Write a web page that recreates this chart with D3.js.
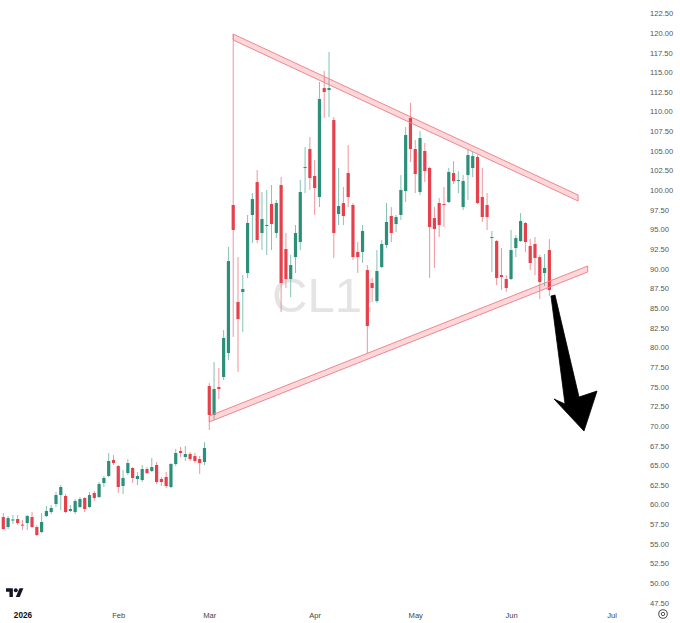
<!DOCTYPE html>
<html>
<head>
<meta charset="utf-8">
<script src="https://cdn.jsdelivr.net/npm/d3@7"></script>
<style>
body { margin: 0; background: #fff; }
svg { display: block; }
text { font-family: "Liberation Sans", Arial, sans-serif; }
</style>
</head>
<body>
<div id="chart-area"></div>
<script>
// CL1! daily candles, late Dec 2025 .. mid Jun 2026
var opens  = [58.41,57.14,58.00,58.16,57.45,57.65,58.41,57.14,56.50,58.54,59.05,60.07,61.21,61.09,59.18,59.05,59.69,60.83,59.69,61.47,
              60.96,62.74,63.63,65.67,64.90,62.36,64.01,64.65,63.25,63.12,64.52,64.27,65.03,63.25,63.50,62.23,65.16,66.81,66.05,66.43,
              66.17,65.79,65.41,75.08,71.39,74.95,76.23,79.28,98.11,85.77,87.04,89.46,96.84,101.03,94.55,95.44,98.24,94.55,100.65,92.51,
              88.69,91.49,93.40,102.82,105.23,101.80,99.13,112.99,112.74,108.92,96.96,98.36,102.18,98.11,92.13,92.13,89.84,88.18,85.89,90.22,
              93.02,96.71,95.69,96.84,99.89,109.18,105.23,99.76,104.98,102.82,96.45,98.36,98.24,98.49,102.18,101.16,97.85,101.92,102.82,104.22,
              99.13,98.11,93.91,93.53,89.20,88.69,88.69,92.64,93.53,95.82,92.89,93.15,91.49,89.46,92.38]
var highs  = [58.92,58.54,58.67,58.67,58.03,58.67,59.05,57.39,58.92,59.81,59.94,61.59,62.48,61.34,59.94,60.70,60.96,60.96,61.59,61.72,
              62.87,63.63,66.56,66.30,65.03,64.39,65.79,64.77,64.14,65.03,64.77,65.92,65.41,63.50,64.14,65.28,67.07,67.32,67.45,66.68,
              66.56,66.17,67.95,75.46,78.13,77.37,82.21,92.77,119.86,91.49,89.20,96.84,99.63,102.56,99.76,100.02,100.65,98.75,101.67,94.55,
              91.75,95.57,101.29,105.49,106.76,103.83,113.76,115.16,117.57,109.30,102.82,100.40,105.74,98.36,93.40,95.57,90.47,88.82,92.38,93.66,
              98.36,97.85,96.84,101.92,108.03,111.09,106.38,107.52,106.00,102.94,97.85,99.00,100.40,102.82,103.71,102.43,101.92,105.11,104.85,104.47,
              102.82,99.63,94.80,93.66,92.64,89.20,94.93,94.29,97.09,95.95,93.78,94.04,91.75,91.87,93.78]
var lows   = [56.76,56.89,57.52,57.39,56.76,56.76,57.01,55.99,56.37,58.41,58.79,59.69,59.30,58.92,59.05,58.79,59.56,59.05,59.56,60.45,
              60.83,62.23,63.50,65.03,61.47,61.34,63.76,62.74,62.48,62.87,63.88,64.14,62.61,62.36,62.10,62.10,64.90,66.05,65.54,65.54,
              65.28,63.88,65.03,69.48,70.75,73.43,75.84,78.39,81.32,76.86,81.95,88.82,93.27,93.27,92.38,91.75,92.38,93.91,84.50,87.55,
              86.40,89.46,92.38,99.63,100.02,96.84,97.85,109.18,109.30,91.37,95.57,95.57,97.85,91.11,89.46,90.73,79.28,85.77,85.64,90.09,
              92.64,93.40,94.67,96.20,98.49,103.58,99.63,99.38,101.03,88.82,90.09,94.04,95.31,98.36,100.78,99.63,97.47,98.75,101.67,98.24,
              95.95,94.93,89.58,87.93,87.29,87.04,88.57,91.49,93.40,92.13,89.84,89.20,86.15,87.80,86.53]
var closes = [56.89,58.28,58.10,57.65,57.35,58.54,57.14,56.12,57.78,59.18,59.56,61.21,62.23,59.05,59.43,60.45,60.70,59.43,61.21,60.83,
              62.61,63.38,65.54,65.28,62.23,63.38,65.28,63.38,63.63,64.52,64.01,64.77,62.87,62.87,62.36,65.16,66.56,66.56,66.43,65.79,
              65.54,65.28,67.19,71.39,74.70,74.70,81.19,90.98,94.93,83.60,87.42,95.82,98.87,93.66,96.33,95.57,95.69,98.36,88.18,88.69,
              90.47,94.55,99.76,102.94,101.54,100.27,111.59,112.49,112.99,94.55,97.98,96.71,99.13,91.49,91.49,94.80,82.71,87.55,89.71,93.15,
              95.95,94.55,96.58,100.02,107.01,105.23,102.05,106.63,102.43,95.31,95.06,95.57,98.11,102.31,101.16,101.29,101.16,104.47,104.34,98.36,
              96.58,96.58,94.04,88.82,88.95,87.55,92.38,93.91,96.07,93.40,90.73,91.37,88.31,90.09,87.29]

// time axis: bar index of the first session of each month
var tickIdx    = [4, 24, 43, 65, 86, 106, 127]
var tickLabels = ["2026", "Feb", "Mar", "Apr", "May", "Jun", "Jul"]
var yTicks = [47.5,50,52.5,55,57.5,60,62.5,65,67.5,70,72.5,75,77.5,80,82.5,85,87.5,90,92.5,95,
              97.5,100,102.5,105,107.5,110,112.5,115,117.5,120,122.5]

// drawn triangle (bar index, price of the upper edge)
var upperIdx = [48, 120]
var upperPrice = [119.86, 99.38]
var lowerIdx = [43, 122]
var lowerPrice = [71.27, 90.35]
var bandWidth = 0.76

// hand-drawn arrow outline (bar index, price)
var arrowIdx   = [114.34, 115.18, 120.19, 123.95, 121.23, 114.97, 117.27]
var arrowPrice = [86.53, 86.66, 73.68, 74.44, 69.35, 73.43, 72.79]

var width = 680
var height = 623

var svg = d3.select("#chart-area")
          .append("svg")
          .attr("width", width)
          .attr("height", height)

var x = d3.scaleLinear().domain([0, 127]).range([3.3, 3.3 + 127 * 4.79])
var y = d3.scaleLinear().domain([47.5, 122.5]).range([602.8, 13.3])

// watermark
svg.append("text")
    .attr("x", 272)
    .attr("y", 312)
    .attr("font-size", "49px")
    .style("fill", "#e4e4e4")
    .text("CL1!")

// candles
var candles = opens.map((o, i) => ({i: i, o: o, h: highs[i], l: lows[i], c: closes[i]}))
var up = (d) => d.c >= d.o

svg.append("g").selectAll("line")
    .data(candles)
    .enter()
    .append("line")
        .attr("x1", (d) => x(d.i))
        .attr("x2", (d) => x(d.i))
        .attr("y1", (d) => y(d.h))
        .attr("y2", (d) => y(d.l))
        .attr("stroke", (d) => up(d) ? "#86c2b4" : "#f0959c")
        .attr("stroke-width", 1)

svg.append("g").selectAll("rect")
    .data(candles)
    .enter()
    .append("rect")
        .attr("x", (d) => x(d.i) - 1.6)
        .attr("width", 3.2)
        .attr("y", (d) => y(Math.max(d.o, d.c)))
        .attr("height", (d) => Math.max(1, Math.abs(y(d.o) - y(d.c))))
        .attr("fill", (d) => up(d) ? "#2b8f79" : "#e5414d")

// triangle bands
function band(idx, price) {
    var pts = [[idx[0], price[0]], [idx[1], price[1]], [idx[1], price[1] - bandWidth], [idx[0], price[0] - bandWidth]]
    svg.append("path")
        .attr("d", d3.line().x((p) => x(p[0])).y((p) => y(p[1]))(pts) + "Z")
        .attr("fill", "rgba(242,54,69,0.2)")
        .attr("stroke", "#ee8790")
        .attr("stroke-width", 1)
}
band(upperIdx, upperPrice)
band(lowerIdx, lowerPrice)

// arrow
svg.append("path")
    .attr("d", d3.line().x((p, i) => x(arrowIdx[i])).y((p, i) => y(arrowPrice[i]))(arrowIdx) + "Z")
    .attr("fill", "#000")
    .attr("stroke", "#000")
    .attr("stroke-width", 0.8)
    .attr("stroke-linejoin", "round")

// price axis
var rightAxis = d3.axisRight(y).tickValues(yTicks).tickFormat(d3.format(".2f")).tickSize(0).tickPadding(0)
var ga = svg.append("g")
    .attr("class", "right axis")
    .attr("transform", "translate(650, 0)")
    .call(rightAxis)
ga.select(".domain").remove()
ga.selectAll("text").attr("font-size", "7.6px").style("fill", "#555")

// time axis
var bottomAxis = d3.axisBottom(x).tickValues(tickIdx).tickFormat((d, i) => tickLabels[i]).tickSize(0).tickPadding(0)
var gb = svg.append("g")
    .attr("class", "bottom axis")
    .attr("transform", "translate(0, 612.4)")
    .call(bottomAxis)
gb.select(".domain").remove()
gb.selectAll("text").attr("font-size", "7.6px").style("fill", "#444")
gb.selectAll("text").filter((d, i) => i == 0)
    .attr("font-weight", "bold").attr("font-size", "8.2px").style("fill", "#111")

// logo and settings icon
var logo = svg.append("g").attr("transform", "translate(6, 586.3) scale(0.49)")
logo.append("path").attr("d", "M14 22H7V11H0V4h14v18zM28 22h-8l7.5-18h8L28 22z").attr("fill", "#131722")
logo.append("circle").attr("cx", 20).attr("cy", 8).attr("r", 4).attr("fill", "#131722")

svg.append("circle").attr("cx", 663).attr("cy", 614).attr("r", 4.3)
    .attr("fill", "none").attr("stroke", "#555").attr("stroke-width", 1.1)
svg.append("circle").attr("cx", 663).attr("cy", 614).attr("r", 1.7)
    .attr("fill", "none").attr("stroke", "#555").attr("stroke-width", 1)
</script>
</body>
</html>
